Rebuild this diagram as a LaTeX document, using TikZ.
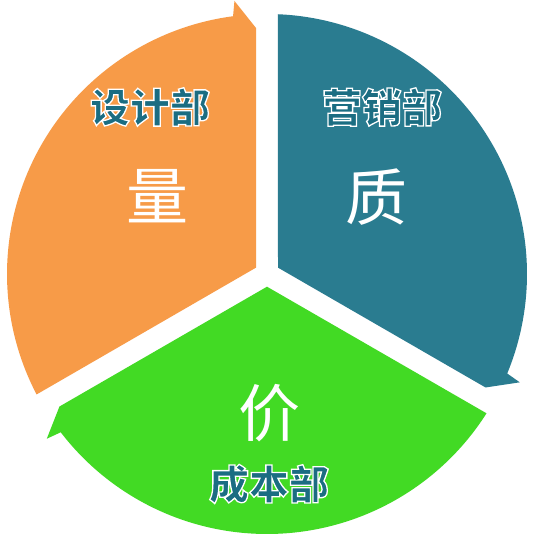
\documentclass[tikz,border=0pt]{standalone}
\usepackage{fontspec}
\newfontfamily\cjk{Noto Sans CJK SC}
\definecolor{orangeS}{HTML}{F79B48}
\definecolor{tealS}{HTML}{2A7C90}
\definecolor{greenS}{HTML}{42DA24}
\definecolor{labcol}{HTML}{1B6D82}
\newcommand\rimtext[1]{\special{pdf:literal direct 2 Tr 1.3 w 1 1 1 RG}#1\special{pdf:literal direct 0 Tr}}
\tikzset{
  lbl/.style={inner sep=0pt, text=labcol, font=\cjk\bfseries\fontsize{40}{42}\selectfont},
  big/.style={inner sep=0pt, text=white, font=\cjk\fontsize{62}{64}\selectfont},
}
\newcommand\sectorshape[2]{%
  \fill[#1, rotate around={#2:(O)}, shift={(O)}]
    (-11,6.35) -- (207.6:260) arc[start angle=207.6, end angle=97.5, radius=260]
    -- (96.8:275) -- (-11,246) -- cycle;}
\begin{document}
\begin{tikzpicture}[x=1pt,y=1pt]
\useasboundingbox (0,0) rectangle (544,548);
\fill[white] (0,0) rectangle (544,548);
\coordinate (O) at (267,274);
\sectorshape{orangeS}{0}
\sectorshape{tealS}{-120}
\sectorshape{greenS}{120}
\node[lbl] (design) at (150,441) {\rimtext{设计部}};
\node[lbl] (market) at (382,441) {\rimtext{营销部}};
\node[lbl] (cost) at (269,64) {\rimtext{成本部}};
\node[big] (liang) at (157,352) {量};
\node[big] (zhi) at (376,351) {质};
\node[big] (jia) at (269,135) {价};
\end{tikzpicture}
\end{document}
